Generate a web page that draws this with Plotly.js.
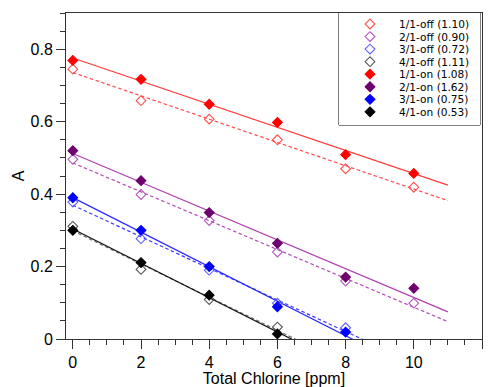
<!DOCTYPE html>
<html>
<head>
<meta charset="utf-8">
<script src="https://cdn.plot.ly/plotly-3.0.1.min.js"></script>
<style>html,body{margin:0;padding:0;background:#fff}#chart{width:488px;height:387px}</style>
</head>
<body>
<div id="chart"></div>
<script>
// Total chlorine concentrations [ppm]
const chlorine = [0, 2, 4, 6, 8, 10];

// Series names (legend labels)
const seriesNames = [
  "1/1-off (1.10)", "2/1-off (0.90)", "3/1-off (0.72)", "4/1-off (1.11)",
  "1/1-on (1.08)", "2/1-on (1.62)", "3/1-on (0.75)", "4/1-on (0.53)"
];

// Absorbance values
const off11 = [0.745, 0.658, 0.607, 0.55, 0.47, 0.419];
const off21 = [0.496, 0.399, 0.327, 0.24, 0.16, 0.099];
const off31 = [0.378, 0.277, 0.19, 0.099, 0.031];
const off41 = [0.311, 0.192, 0.109, 0.033];
const on11  = [0.769, 0.717, 0.648, 0.598, 0.509, 0.457];
const on21  = [0.52, 0.437, 0.349, 0.264, 0.171, 0.14];
const on31  = [0.39, 0.30, 0.20, 0.089, 0.019];
const on41  = [0.30, 0.211, 0.121, 0.014];

const seriesValues = [off11, off21, off31, off41, on11, on21, on31, on41];
const markerColors = ["#ff5050", "#b455c0", "#6060ff", "#555555", "#ff0000", "#6e006e", "#0000ff", "#000000"];
const lineColors   = ["#ff4848", "#b548b5", "#3a3aff", "#707070", "#ff3a3a", "#b040b0", "#2a2aff", "#111111"];
const fitEnd = 11;

function linfit(xs, ys) {
  const n = ys.length;
  const x = xs.slice(0, n);
  const mx = x.reduce((a, b) => a + b, 0) / n;
  const my = ys.reduce((a, b) => a + b, 0) / n;
  let sxy = 0, sxx = 0;
  for (let i = 0; i < n; i++) { sxy += (x[i] - mx) * (ys[i] - my); sxx += (x[i] - mx) ** 2; }
  const m = sxy / sxx;
  return { m: m, b: my - m * mx };
}

const traces = [];
// fit lines
seriesValues.forEach((ys, i) => {
  const f = linfit(chlorine, ys);
  const isOff = i < 4;
  traces.push({
    x: [0, fitEnd], y: [f.b, f.b + f.m * fitEnd],
    mode: "lines", showlegend: false, hoverinfo: "skip",
    line: { color: lineColors[i], width: 1.2, dash: isOff ? "3.5px,2.5px" : "solid" }
  });
});
// data markers
function markerStyle(i) {
  const isOff = i < 4;
  return {
    symbol: isOff ? "diamond-open" : "diamond",
    size: 7.5,
    color: markerColors[i],
    line: { color: markerColors[i], width: 1.1 }
  };
}
seriesValues.forEach((ys, i) => {
  traces.push({
    x: chlorine.slice(0, ys.length), y: ys,
    name: seriesNames[i], mode: "markers", cliponaxis: false, showlegend: false,
    marker: markerStyle(i)
  });
});

// custom compact legend drawn on its own small axes (units: pixels inside the box)
const legendRowY = seriesNames.map((_, i) => 11 + i * 12.55);
seriesNames.forEach((name, i) => {
  traces.push({
    x: [31], y: [legendRowY[i]], xaxis: "x2", yaxis: "y2",
    mode: "markers", showlegend: false, cliponaxis: false, hoverinfo: "skip",
    marker: markerStyle(i)
  });
});

const font = { family: "Liberation Sans, Arial, Helvetica, sans-serif", color: "#000" };
const legendFont = { family: "DejaVu Sans, sans-serif", color: "#000", size: 10.6 };
const annotations = seriesNames.map((name, i) => ({
  x: 59, y: legendRowY[i], xref: "x2", yref: "y2",
  text: name, showarrow: false, xanchor: "left", yanchor: "middle",
  borderpad: 0,
  font: legendFont
}));

const plotL = 66, plotR = 482, plotT = 13, plotB = 339;
const pw = plotR - plotL, ph = plotB - plotT;
const boxL = 339, boxR = 480, boxT = 13, boxB = 125;
const bx0 = (boxL - plotL) / pw, bx1 = (boxR - plotL) / pw;
const by0 = (plotB - boxB) / ph, by1 = (plotB - boxT) / ph;

const layout = {
  width: 488, height: 387,
  margin: { l: plotL, r: 488 - plotR, t: plotT, b: 387 - plotB },
  paper_bgcolor: "#fff", plot_bgcolor: "#fff",
  font: Object.assign({ size: 14 }, font),
  showlegend: false,
  xaxis: {
    range: [-0.2, 12], dtick: 2, tick0: 0,
    ticks: "outside", ticklen: 9, tickwidth: 1, tickcolor: "#333",
    minor: { dtick: 0.5, ticks: "outside", ticklen: 5, tickcolor: "#333", showgrid: false },
    showline: true, linecolor: "#333", linewidth: 1, mirror: true,
    showgrid: false, zeroline: false,
    tickfont: Object.assign({ size: 16 }, font),
    title: { text: "Total Chlorine [ppm]", font: Object.assign({ size: 16 }, font), standoff: 5 }
  },
  yaxis: {
    range: [0, 0.9], dtick: 0.2, tick0: 0,
    ticks: "outside", ticklen: 9, tickwidth: 1, tickcolor: "#333",
    minor: { dtick: 0.05, ticks: "outside", ticklen: 5, tickcolor: "#333", showgrid: false },
    showline: true, linecolor: "#333", linewidth: 1, mirror: true,
    showgrid: false, zeroline: false,
    tickfont: Object.assign({ size: 16 }, font),
    title: { text: "A", font: Object.assign({ size: 16 }, font), standoff: 1 }
  },
  xaxis2: {
    domain: [bx0, bx1], anchor: "y2", range: [0, boxR - boxL],
    visible: false, fixedrange: true
  },
  yaxis2: {
    domain: [by0, by1], anchor: "x2", range: [boxB - boxT, 0],
    visible: false, fixedrange: true
  },
  shapes: [{
    type: "rect", xref: "paper", yref: "paper",
    x0: bx0, x1: bx1, y0: by0, y1: by1,
    line: { color: "#000", width: 1 }, fillcolor: "#fff", layer: "below"
  }],
  annotations: annotations
};

Plotly.newPlot("chart", traces, layout, { staticPlot: true, displayModeBar: false });
</script>
</body>
</html>
